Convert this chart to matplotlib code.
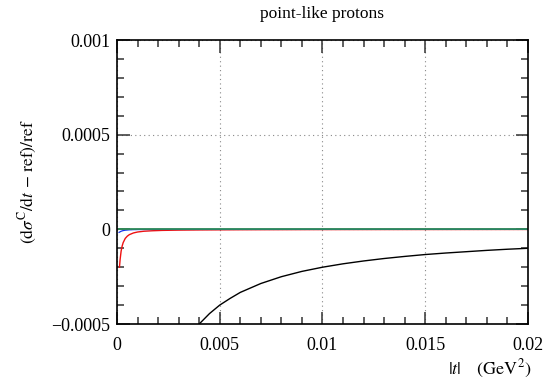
import matplotlib.pyplot as plt
from matplotlib.ticker import MultipleLocator, FuncFormatter

plt.rcParams['font.family'] = ['Liberation Serif', 'DejaVu Serif']
plt.rcParams['mathtext.fontset'] = 'stix'

# black curve: point-like
t_black = [0.004, 0.0045, 0.005, 0.0055, 0.006, 0.007, 0.008, 0.009, 0.010,
           0.011, 0.012, 0.013, 0.014, 0.015, 0.016, 0.017, 0.018, 0.019, 0.020]
y_black = [-5.0e-4, -4.45e-4, -4.0e-4, -3.65e-4, -3.33e-4, -2.86e-4, -2.5e-4,
           -2.22e-4, -2.0e-4, -1.82e-4, -1.67e-4, -1.54e-4, -1.43e-4, -1.33e-4,
           -1.25e-4, -1.18e-4, -1.11e-4, -1.05e-4, -1.0e-4]

# red curve
t_red = [0.00012, 0.00015, 0.0002, 0.00025, 0.0003, 0.0004, 0.0005, 0.0006,
         0.0008, 0.001, 0.0013, 0.0017, 0.0022, 0.003, 0.004, 0.006, 0.01, 0.02]
y_red = [-2.0e-4, -1.6e-4, -1.15e-4, -8.8e-5, -7.0e-5, -4.8e-5, -3.6e-5,
         -2.8e-5, -1.9e-5, -1.4e-5, -1.0e-5, -7.5e-6, -5.5e-6, -4.0e-6,
         -3.0e-6, -2.0e-6, -1.2e-6, -6e-7]

# blue curve
t_blue = [0.0001, 0.0002, 0.0003, 0.0004, 0.0006, 0.0008, 0.001, 0.002, 0.02]
y_blue = [-1.6e-5, -1.0e-5, -6.5e-6, -4.5e-6, -2.5e-6, -1.5e-6, -1.0e-6, -3e-7, 0.0]

# green curve
t_green = [0.0001, 0.02]
y_green = [0.0, 0.0]

fig = plt.figure(figsize=(5.45, 3.83), dpi=100)
ax = fig.add_axes([0.2147, 0.154, 0.754, 0.7415])

ax.plot(t_black, y_black, color='black', lw=1.0)
ax.plot(t_red, y_red, color='#ee1111', lw=1.0)
ax.plot(t_blue, y_blue, color='#1133ee', lw=0.9)
ax.plot(t_green, y_green, color='#2e8b57', lw=1.3)

ax.set_xlim(0, 0.02)
ax.set_ylim(-0.0005, 0.001)

ax.xaxis.set_major_locator(MultipleLocator(0.005))
ax.xaxis.set_minor_locator(MultipleLocator(0.001))
ax.yaxis.set_major_locator(MultipleLocator(0.0005))
ax.yaxis.set_minor_locator(MultipleLocator(0.0001))

def fmt(v, pos):
    if abs(v) < 1e-12:
        return '0'
    s = ('%.4f' % v).rstrip('0')
    return s.replace('-', '\u2212')

ax.xaxis.set_major_formatter(FuncFormatter(fmt))
ax.yaxis.set_major_formatter(FuncFormatter(fmt))

ax.tick_params(which='both', direction='in', top=True, right=True,
               labelsize=13, width=1.1, color='#333333')
ax.tick_params(which='major', length=9)
ax.tick_params(which='minor', length=5)
ax.tick_params(axis='x', pad=9)
ax.tick_params(axis='y', pad=5)

ax.grid(True, which='major', linestyle=(0, (1, 3)), color='#888888', lw=0.8)
for s in ax.spines.values():
    s.set_linewidth(1.2)

ax.set_title('point-like protons', fontsize=12.5, pad=16)
ax.set_ylabel(r'$(\mathrm{d}\sigma^{\mathrm{C}}/\mathrm{d}t\,-\,\mathrm{ref})/\mathrm{ref}$',
              fontsize=12.5, labelpad=9)
fig.text(0.975, 0.008, r'$|t|\quad\;(\mathrm{GeV}^2)$', ha='right', va='bottom', fontsize=13)

fig.savefig('out.png', dpi=100)
